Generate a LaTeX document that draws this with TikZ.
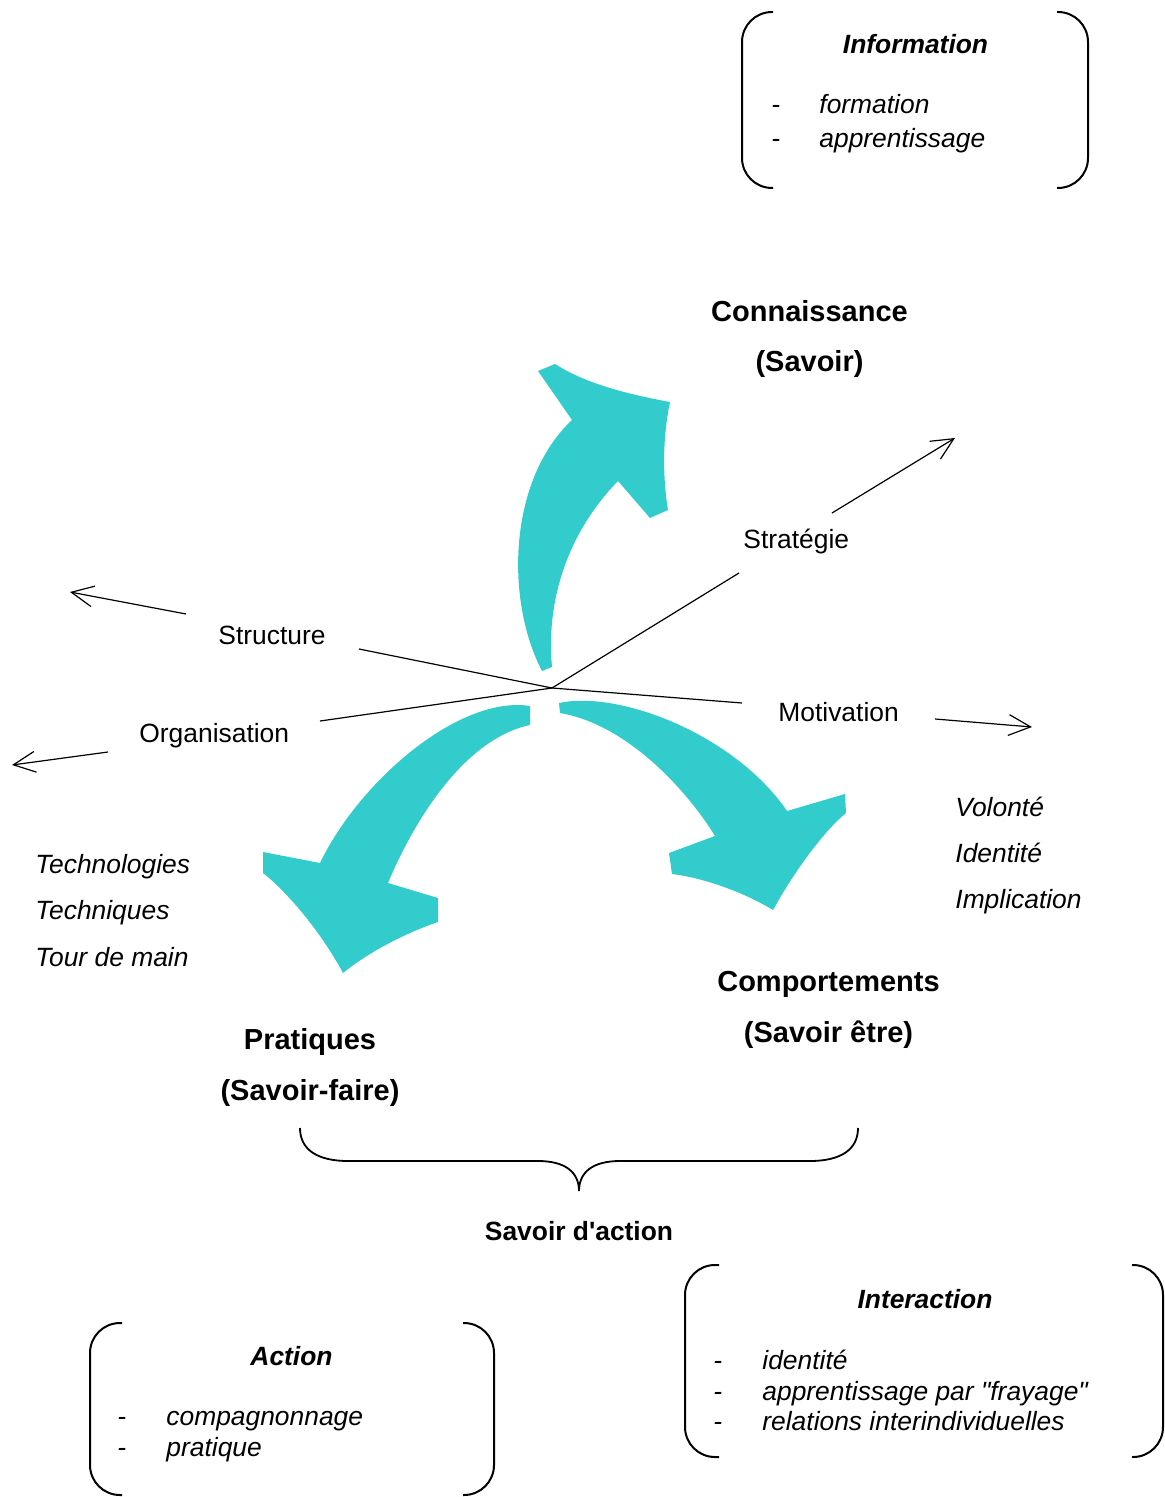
\documentclass[tikz,border=0pt]{standalone}
\usepackage{fontspec}
\setmainfont{Liberation Sans}[Ligatures=TeXOff]
\usetikzlibrary{arrows.meta}
\definecolor{turq}{RGB}{51,204,204}
\begin{document}
\begin{tikzpicture}[x=0.5pt,y=-0.5pt,
  txt/.style={inner sep=0pt, anchor=base west, font=\fontsize{13.2}{15}\selectfont},
  itxt/.style={inner sep=0pt, anchor=base west, font=\fontsize{13.2}{15}\selectfont\itshape},
  btitle/.style={inner sep=0pt, anchor=base, font=\fontsize{13.2}{15}\selectfont\bfseries\itshape},
  lbl/.style={inner sep=0pt, anchor=base, font=\fontsize{14.5}{17}\selectfont\bfseries},
  axisline/.style={line width=0.6pt},
  ray/.style={line width=0.6pt, -{Straight Barb[length=11pt,width=10.4pt]}},
  bracket/.style={line width=1pt, rounded corners=15pt},
  brace/.style={line width=0.9pt},
  bigarrow/.style={fill=turq, draw=none}
]
\useasboundingbox (0,0) rectangle (1164,1497);

% ---- curved arrows ----
\fill[bigarrow] (542,671) .. controls (505,600) and (508,480) .. (572,420)
  -- (538,371) -- (555,364) .. controls (580,380) and (615,392) .. (670,402)
  .. controls (662,440) and (663,480) .. (668,510) -- (650,518) -- (618,481)
  .. controls (575,525) and (545,590) .. (552,667) -- cycle;

\fill[bigarrow] (530,706) .. controls (460,695) and (360,780) .. (320,863)
  -- (263,852) -- (263,873) .. controls (285,890) and (320,930) .. (343,973)
  .. controls (365,955) and (400,935) .. (438,922) -- (438,898) -- (388,883)
  .. controls (410,830) and (460,740) .. (530,725) -- cycle;

\fill[bigarrow] (559,703) .. controls (620,690) and (735,735) .. (787,811)
  -- (845,794) -- (846,813) .. controls (825,830) and (795,870) .. (773,910)
  .. controls (745,893) and (705,878) .. (672,874) -- (669,853) -- (715,836)
  .. controls (690,795) and (630,725) .. (560,713) -- cycle;

% ---- axes from the centre ----
\coordinate (c) at (552,688);
\coordinate (strA) at (739,573);
\coordinate (strB) at (832,513);
\coordinate (strT) at (955,438);
\coordinate (stuA) at (359,649);
\coordinate (stuB) at (186,614);
\coordinate (stuT) at (70,592);
\coordinate (orgA) at (320,721);
\coordinate (orgB) at (108,752);
\coordinate (orgT) at (12,765);
\coordinate (motA) at (742,703);
\coordinate (motB) at (935,719);
\coordinate (motT) at (1032,727);

\draw[axisline] (c) -- (strA);
\draw[ray] (strB) -- (strT);
\draw[axisline] (c) -- (stuA);
\draw[ray] (stuB) -- (stuT);
\draw[axisline] (c) -- (orgA);
\draw[ray] (orgB) -- (orgT);
\draw[axisline] (c) -- (motA);
\draw[ray] (motB) -- (motT);

\node[txt] (strat) at (743,548) {Stratégie};
\node[txt] (struc) at (218,644) {Structure};
\node[txt] (organ) at (139,742) {Organisation};
\node[txt] (motiv) at (778,721) {Motivation};

% ---- main labels ----
\node[lbl] (conn1) at (809.5,322) {Connaissance};
\node[lbl] (conn2) at (809.5,372) {(Savoir)};
\node[lbl] (comp1) at (828.5,991) {Comportements};
\node[lbl] (comp2) at (828.5,1042) {(Savoir être)};
\node[lbl] (prat1) at (310,1049) {Pratiques};
\node[lbl] (prat2) at (310,1100) {(Savoir-faire)};
\node[lbl, font=\fontsize{13.2}{15}\selectfont\bfseries] (sda) at (579,1240) {Savoir d'action};

% ---- side lists ----
\node[itxt] (tech1) at (35,873) {Technologies};
\node[itxt] (tech2) at (35,919) {Techniques};
\node[itxt] (tech3) at (35,966) {Tour de main};
\node[itxt] (vol1) at (955,816) {Volonté};
\node[itxt] (vol2) at (955,862) {Identité};
\node[itxt] (vol3) at (955,908) {Implication};

% ---- brace under the two lower poles ----
\draw[brace] (300,1128) .. controls (300,1150) and (318,1161) .. (348,1161)
  -- (538,1161) .. controls (565,1161) and (579,1172) .. (579,1191)
  .. controls (579,1172) and (593,1161) .. (620,1161)
  -- (810,1161) .. controls (840,1161) and (858,1150) .. (858,1128);

% ---- Information box ----
\draw[bracket] (773,12) -- (742,12) -- (742,188) -- (773,188);
\draw[bracket] (1057,12) -- (1088,12) -- (1088,188) -- (1057,188);
\node[btitle] (info) at (915.5,54) {Information};
\node[itxt] (infoD1) at (771,114) {-};
\node[itxt] (info1) at (819,114) {formation};
\node[itxt] (infoD2) at (771,148) {-};
\node[itxt] (info2) at (819,148) {apprentissage};

% ---- Interaction box ----
\draw[bracket] (719,1265) -- (685,1265) -- (685,1457) -- (719,1457);
\draw[bracket] (1132,1265) -- (1163,1265) -- (1163,1457) -- (1132,1457);
\node[btitle] (inter) at (925,1308) {Interaction};
\node[itxt] (interD1) at (713,1369) {-};
\node[itxt] (inter1) at (762,1369) {identité};
\node[itxt] (interD2) at (713,1400) {-};
\node[itxt] (inter2) at (762,1400) {apprentissage par "frayage"};
\node[itxt] (interD3) at (713,1430) {-};
\node[itxt] (inter3) at (762,1430) {relations interindividuelles};

% ---- Action box ----
\draw[bracket] (122,1323) -- (90,1323) -- (90,1495) -- (122,1495);
\draw[bracket] (463,1323) -- (494,1323) -- (494,1495) -- (463,1495);
\node[btitle] (act) at (291.5,1365) {Action};
\node[itxt] (actD1) at (117,1425) {-};
\node[itxt] (act1) at (166,1425) {compagnonnage};
\node[itxt] (actD2) at (117,1456) {-};
\node[itxt] (act2) at (166,1456) {pratique};
\end{tikzpicture}
\end{document}
